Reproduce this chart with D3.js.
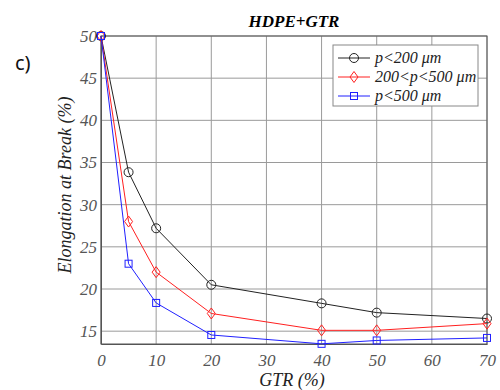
<!DOCTYPE html>
<html><head><meta charset="utf-8">
<script src="https://cdn.jsdelivr.net/npm/d3@7"></script>
<style>body{margin:0;background:#fff}svg{display:block}.sf{font-family:"Liberation Serif","Times New Roman",serif;font-style:italic}</style>
</head><body>
<script>
const xVals = [0, 5, 10, 20, 40, 50, 70];
const seriesNames = ["p<200 \u03BCm", "200<p<500 \u03BCm", "p<500 \u03BCm"];
const black = [50, 33.85, 27.2, 20.5, 18.3, 17.2, 16.5];
const red = [50, 28.0, 22.0, 17.1, 15.1, 15.1, 15.9];
const blue = [50, 23.0, 18.35, 14.55, 13.5, 13.9, 14.2];
const xTicks = [0, 10, 20, 30, 40, 50, 60, 70];
const yTicks = [15, 20, 25, 30, 35, 40, 45, 50];

const W = 500, H = 390;
const m = {l: 101, r: 13, t: 36, b: 46};
const svg = d3.select("body").append("svg").attr("width", W).attr("height", H);
const x = d3.scaleLinear().domain([0, 70]).range([m.l, W - m.r]);
const y = d3.scaleLinear().domain([13.48, 50]).range([H - m.b, m.t]);

// grid
svg.append("g").selectAll("line").data(xTicks).join("line")
  .attr("x1", d => x(d)).attr("x2", d => x(d)).attr("y1", y(13.48)).attr("y2", m.t)
  .attr("stroke", "#9a9a9a").attr("stroke-width", 1);
svg.append("g").selectAll("line").data(yTicks).join("line")
  .attr("y1", d => y(d)).attr("y2", d => y(d)).attr("x1", m.l).attr("x2", W - m.r)
  .attr("stroke", "#9a9a9a").attr("stroke-width", 1);

// box
svg.append("rect").attr("x", m.l).attr("y", m.t).attr("width", W - m.r - m.l).attr("height", H - m.b - m.t)
  .attr("fill", "none").attr("stroke", "#555").attr("stroke-width", 1);

// axes
const xa = svg.append("g").attr("transform", `translate(0,${H - m.b})`)
  .call(d3.axisBottom(x).tickValues(xTicks).tickSize(0).tickPadding(10));
const ya = svg.append("g").attr("transform", `translate(${m.l},0)`)
  .call(d3.axisLeft(y).tickValues(yTicks).tickSize(0).tickPadding(4));
[xa, ya].forEach(a => {
  a.attr("font-family", null).attr("font-size", null);
  a.select(".domain").attr("stroke", "#555");
  a.selectAll("text").attr("class", "sf").style("font-size", "17px").attr("fill", "#555");
});

// labels
svg.append("text").attr("class", "sf").attr("x", 292).attr("y", 386).attr("text-anchor", "middle")
  .style("font-size", "18px").attr("fill", "#222").text("GTR (%)");
svg.append("text").attr("class", "sf").attr("transform", `translate(71,185) rotate(-90)`)
  .attr("text-anchor", "middle").style("font-size", "18px").attr("fill", "#222")
  .text("Elongation at Break (%)");
svg.append("text").attr("class", "sf").attr("x", 294).attr("y", 27).attr("text-anchor", "middle")
  .style("font-weight", "bold").style("font-size", "17px").attr("fill", "#000").text("HDPE+GTR");
svg.append("text").attr("x", 15).attr("y", 70)
  .style("font-family", "'Noto Sans', sans-serif").style("font-size", "20px").attr("fill", "#111").text("c)");

// series
const series = [
  {vals: black, color: "#222", shape: "circle"},
  {vals: red, color: "#ff2020", shape: "diamond"},
  {vals: blue, color: "#2020ff", shape: "square"}
];
function marker(g, shape, color, cx, cy) {
  if (shape === "circle") g.append("circle").attr("cx", cx).attr("cy", cy).attr("r", 4.5)
    .attr("fill", "none").attr("stroke", color).attr("stroke-width", 1);
  else if (shape === "diamond") g.append("path")
    .attr("d", `M${cx},${cy - 5.5}L${cx + 4},${cy}L${cx},${cy + 5.5}L${cx - 4},${cy}Z`)
    .attr("fill", "none").attr("stroke", color).attr("stroke-width", 1);
  else g.append("rect").attr("x", cx - 3.5).attr("y", cy - 3.5).attr("width", 7).attr("height", 7)
    .attr("fill", "none").attr("stroke", color).attr("stroke-width", 1);
}
const line = d3.line().x((d, i) => x(xVals[i])).y(d => y(d));
series.forEach(s => {
  const g = svg.append("g");
  g.append("path").datum(s.vals).attr("d", line).attr("fill", "none")
    .attr("stroke", s.color).attr("stroke-width", 1);
  s.vals.forEach((v, i) => marker(g, s.shape, s.color, x(xVals[i]), y(v)));
});

// legend
const lg = svg.append("g");
lg.append("rect").attr("x", 333).attr("y", 45).attr("width", 145).attr("height", 61)
  .attr("fill", "#fff").attr("stroke", "#888").attr("stroke-width", 1);
series.forEach((s, i) => {
  const yy = 58 + i * 19;
  lg.append("line").attr("x1", 338).attr("x2", 370).attr("y1", yy).attr("y2", yy)
    .attr("stroke", s.color).attr("stroke-width", 1);
  marker(lg, s.shape, s.color, 354, yy);
  lg.append("text").attr("class", "sf").attr("x", 375).attr("y", yy + 5)
    .style("font-size", "16px").attr("fill", "#222").text(seriesNames[i]);
});
</script>
</body></html>
